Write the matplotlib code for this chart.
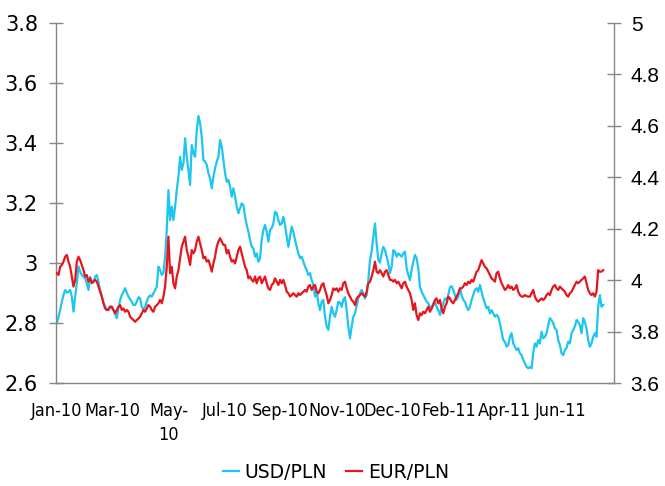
import matplotlib
matplotlib.use("Agg")
import matplotlib.pyplot as plt
import numpy as np
from matplotlib.lines import Line2D

# Daily fixings, Jan 2010 - Jun 2011
usd_pln = [
    2.799, 2.821, 2.843, 2.871, 2.893, 2.910, 2.901, 2.904, 2.910, 2.888,
    2.838, 2.888, 2.932, 2.988, 2.971, 2.960, 2.954, 2.949, 2.932, 2.910,
    2.954, 2.938, 2.938, 2.954, 2.960, 2.938, 2.910, 2.888, 2.868, 2.854,
    2.843, 2.849, 2.854, 2.849, 2.843, 2.830, 2.816, 2.849, 2.877, 2.893,
    2.904, 2.916, 2.901, 2.888, 2.879, 2.871, 2.860, 2.860, 2.871, 2.886,
    2.882, 2.854, 2.846, 2.854, 2.871, 2.886, 2.892, 2.888, 2.899, 2.910,
    2.921, 2.988, 2.977, 2.960, 2.966, 3.021, 3.110, 3.243, 3.143, 3.188,
    3.143, 3.188, 3.243, 3.288, 3.354, 3.310, 3.332, 3.416, 3.354, 3.310,
    3.260, 3.393, 3.366, 3.354, 3.443, 3.490, 3.466, 3.421, 3.343, 3.338,
    3.327, 3.299, 3.282, 3.249, 3.288, 3.316, 3.338, 3.354, 3.410, 3.388,
    3.343, 3.299, 3.271, 3.277, 3.254, 3.221, 3.249, 3.221, 3.188, 3.166,
    3.182, 3.199, 3.193, 3.154, 3.127, 3.104, 3.077, 3.054, 3.049, 3.021,
    3.032, 3.004, 3.016, 3.077, 3.110, 3.127, 3.104, 3.071, 3.110, 3.116,
    3.132, 3.171, 3.166, 3.143, 3.127, 3.132, 3.154, 3.127, 3.088, 3.054,
    3.088, 3.121, 3.104, 3.077, 3.054, 3.032, 3.016, 3.021, 3.004, 2.988,
    2.977, 2.960, 2.966, 2.943, 2.927, 2.888, 2.904, 2.866, 2.843, 2.871,
    2.877, 2.821, 2.788, 2.777, 2.821, 2.854, 2.832, 2.821, 2.843,
    2.871, 2.868, 2.854, 2.877, 2.886, 2.843, 2.788, 2.749, 2.788, 2.821,
    2.832, 2.857, 2.882, 2.899, 2.910, 2.899, 2.882, 2.893, 2.943, 3.010,
    3.038, 3.088, 3.132, 3.066, 3.010, 3.001, 3.032, 3.054, 3.043, 3.021,
    2.999, 2.966, 2.988, 3.043, 3.038, 3.021, 3.032, 3.027, 3.021, 3.032,
    3.038, 2.982, 2.960, 2.943, 2.977, 3.004, 3.027, 3.016, 2.982, 2.921,
    2.904, 2.893, 2.882, 2.871, 2.866, 2.854, 2.849, 2.866, 2.871, 2.854,
    2.843, 2.827, 2.849, 2.866, 2.882, 2.877, 2.893, 2.919, 2.923, 2.910,
    2.893, 2.877, 2.888, 2.916, 2.893, 2.877, 2.871, 2.854, 2.843, 2.854,
    2.877, 2.893, 2.910, 2.916, 2.904, 2.927, 2.904, 2.882, 2.866, 2.849,
    2.854, 2.832, 2.843, 2.832, 2.821, 2.827, 2.821, 2.799, 2.771, 2.743,
    2.738, 2.721, 2.727, 2.754, 2.766, 2.732, 2.721, 2.710, 2.716, 2.699,
    2.693, 2.677, 2.666, 2.654, 2.649, 2.654, 2.649, 2.699, 2.732, 2.721,
    2.743, 2.732, 2.771, 2.749, 2.754, 2.766, 2.793, 2.816, 2.810, 2.799,
    2.782, 2.777, 2.743, 2.727, 2.699, 2.693, 2.710, 2.716, 2.738, 2.732,
    2.766, 2.777, 2.788, 2.810, 2.804, 2.793, 2.766, 2.816, 2.804, 2.782,
    2.743, 2.721, 2.732, 2.754, 2.766, 2.754, 2.854, 2.893, 2.854, 2.860,
]

eur_pln = [
    4.027, 4.020, 4.052, 4.059, 4.072, 4.091, 4.098, 4.072, 4.052, 4.014,
    3.975, 4.001, 4.072, 4.091, 4.078, 4.059, 4.039, 4.014, 4.020, 3.994,
    4.007, 3.988, 3.994, 4.001, 3.994, 3.975, 3.955, 3.936, 3.910, 3.890,
    3.884, 3.884, 3.897, 3.897, 3.884, 3.871, 3.884, 3.897, 3.903, 3.884,
    3.890, 3.877, 3.884, 3.877, 3.858, 3.851, 3.845, 3.838, 3.845, 3.851,
    3.858, 3.871, 3.884, 3.877, 3.890, 3.903, 3.897, 3.884, 3.877, 3.897,
    3.903, 3.910, 3.923, 3.910, 3.936, 3.975, 4.052, 4.169, 4.027, 4.052,
    3.988, 3.968, 4.014, 4.039, 4.085, 4.130, 4.150, 4.169, 4.117, 4.091,
    4.059, 4.117, 4.104, 4.117, 4.150, 4.169, 4.143, 4.117, 4.085, 4.091,
    4.072, 4.078, 4.059, 4.033, 4.065, 4.091, 4.130, 4.150, 4.163, 4.150,
    4.137, 4.137, 4.104, 4.117, 4.091, 4.072, 4.078, 4.065, 4.091, 4.117,
    4.130, 4.104, 4.078, 4.052, 4.039, 4.007, 4.014, 4.001, 3.994, 4.014,
    3.988, 4.007, 4.014, 3.988, 4.001, 4.014, 3.988, 3.968, 3.962, 3.981,
    3.988, 4.007, 3.994, 3.981, 4.001, 3.988, 4.001, 3.981, 3.955, 3.949,
    3.936, 3.942, 3.949, 3.942, 3.936, 3.949, 3.942, 3.949, 3.955, 3.962,
    3.955, 3.975, 3.981, 3.962, 3.975, 3.981, 3.955, 3.949, 3.962, 3.981,
    3.988, 3.962, 3.942, 3.910, 3.923, 3.942, 3.968, 3.962, 3.968,
    3.955, 3.968, 3.962, 3.988, 3.994, 3.968, 3.949, 3.936, 3.923, 3.916,
    3.903, 3.929, 3.936, 3.942, 3.949, 3.942, 3.936, 3.955, 3.988, 3.994,
    4.014, 4.039, 4.072, 4.033, 4.027, 4.039, 4.027, 4.014, 4.033, 4.039,
    4.020, 4.001, 4.001, 3.994, 4.001, 3.988, 3.994, 3.981, 3.968, 3.988,
    3.994, 3.975, 3.962, 3.949, 3.923, 3.884, 3.910, 3.864, 3.845, 3.871,
    3.864, 3.877, 3.871, 3.884, 3.897, 3.877, 3.890, 3.903, 3.923, 3.929,
    3.910, 3.923, 3.890, 3.871, 3.897, 3.910, 3.936, 3.929, 3.916, 3.910,
    3.923, 3.936, 3.949, 3.968, 3.968, 3.975, 3.988, 3.981, 3.994, 3.988,
    4.001, 3.994, 4.014, 4.033, 4.039, 4.059, 4.078, 4.065, 4.052, 4.046,
    4.033, 4.020, 4.007, 4.001, 3.994, 4.027, 4.033, 4.007, 3.988, 3.975,
    3.962, 3.968, 3.981, 3.968, 3.975, 3.962, 3.968, 3.981, 3.955, 3.942,
    3.936, 3.936, 3.942, 3.938, 3.936, 3.936, 3.949, 3.962, 3.936, 3.923,
    3.916, 3.923, 3.929, 3.923, 3.929, 3.942, 3.949, 3.942, 3.962, 3.975,
    3.981, 3.968, 3.962, 3.975, 3.968, 3.962, 3.955, 3.942, 3.936, 3.949,
    3.955, 3.968, 3.981, 3.994, 3.988, 3.994, 4.001, 4.007, 4.014, 3.988,
    3.962, 3.949, 3.942, 3.949, 3.936, 3.955, 4.039, 4.033, 4.033, 4.039,
]

month_labels = ["Jan-10", "Mar-10", "May-\n10", "Jul-10", "Sep-10",
                "Nov-10", "Dec-10", "Feb-11", "Apr-11", "Jun-11"]
label_step = 33.6  # observations between consecutive axis labels

usd_ticks = [2.6, 2.8, 3.0, 3.2, 3.4, 3.6, 3.8]
eur_ticks = [3.6, 3.8, 4.0, 4.2, 4.4, 4.6, 4.8, 5.0]

usd_color = "#1ec5ef"
eur_color = "#e5161d"
axis_grey = "#868686"


def fmt(v):
    return f"{v:g}"


fig = plt.figure(figsize=(6.65, 4.86), dpi=100)
ax = fig.add_axes([56 / 665, 1 - 383 / 486, (614 - 56) / 665, 360 / 486])
ax2 = ax.twinx()

x = np.arange(len(usd_pln))
ax.plot(x, usd_pln, color=usd_color, lw=1.6, solid_joinstyle="round")
ax2.plot(x, eur_pln, color=eur_color, lw=1.6, solid_joinstyle="round")

ax.set_xlim(-0.5, 334.5)
ax.set_ylim(2.6, 3.8)
ax2.set_ylim(3.6, 5.0)

# axis frame
for a in (ax, ax2):
    a.spines["top"].set_visible(False)
    for s in a.spines.values():
        s.set_color(axis_grey)
        s.set_linewidth(1.0)
ax.spines["right"].set_visible(False)
ax2.spines["left"].set_visible(False)
ax2.spines["bottom"].set_visible(False)
ax.patch.set_visible(False)

# left scale (USD/PLN)
ax.set_yticks(usd_ticks)
ax.set_yticklabels([fmt(v) for v in usd_ticks], fontsize=15,
                   fontfamily="DejaVu Sans")
ax.tick_params(axis="y", direction="inout", length=10, width=1,
               color=axis_grey, pad=8, labelcolor="black")

# right scale (EUR/PLN)
ax2.set_yticks(eur_ticks)
ax2.set_yticklabels([fmt(v) for v in eur_ticks], fontsize=15,
                    fontfamily="Liberation Sans")
ax2.tick_params(axis="y", direction="inout", length=10, width=1,
                color=axis_grey, pad=7, labelcolor="black")

# month labels along the bottom
ax.set_xticks(np.arange(len(month_labels)) * label_step)
ax.set_xticklabels(month_labels, fontsize=13, fontfamily="DejaVu Sans",
                   fontstretch="condensed", linespacing=1.4)
ax.tick_params(axis="x", length=0, pad=14)

handles = [Line2D([], [], color=usd_color, lw=1.6),
           Line2D([], [], color=eur_color, lw=1.6)]
fig.legend(handles, ["USD/PLN", "EUR/PLN"], loc="center",
           bbox_to_anchor=(336 / 665, 1 - 472 / 486), ncol=2, frameon=False,
           prop={"family": "DejaVu Sans", "size": 13.5},
           handlelength=0.85, handletextpad=0.3, columnspacing=1.0)

fig.savefig("out.png", dpi=100, facecolor="white")
